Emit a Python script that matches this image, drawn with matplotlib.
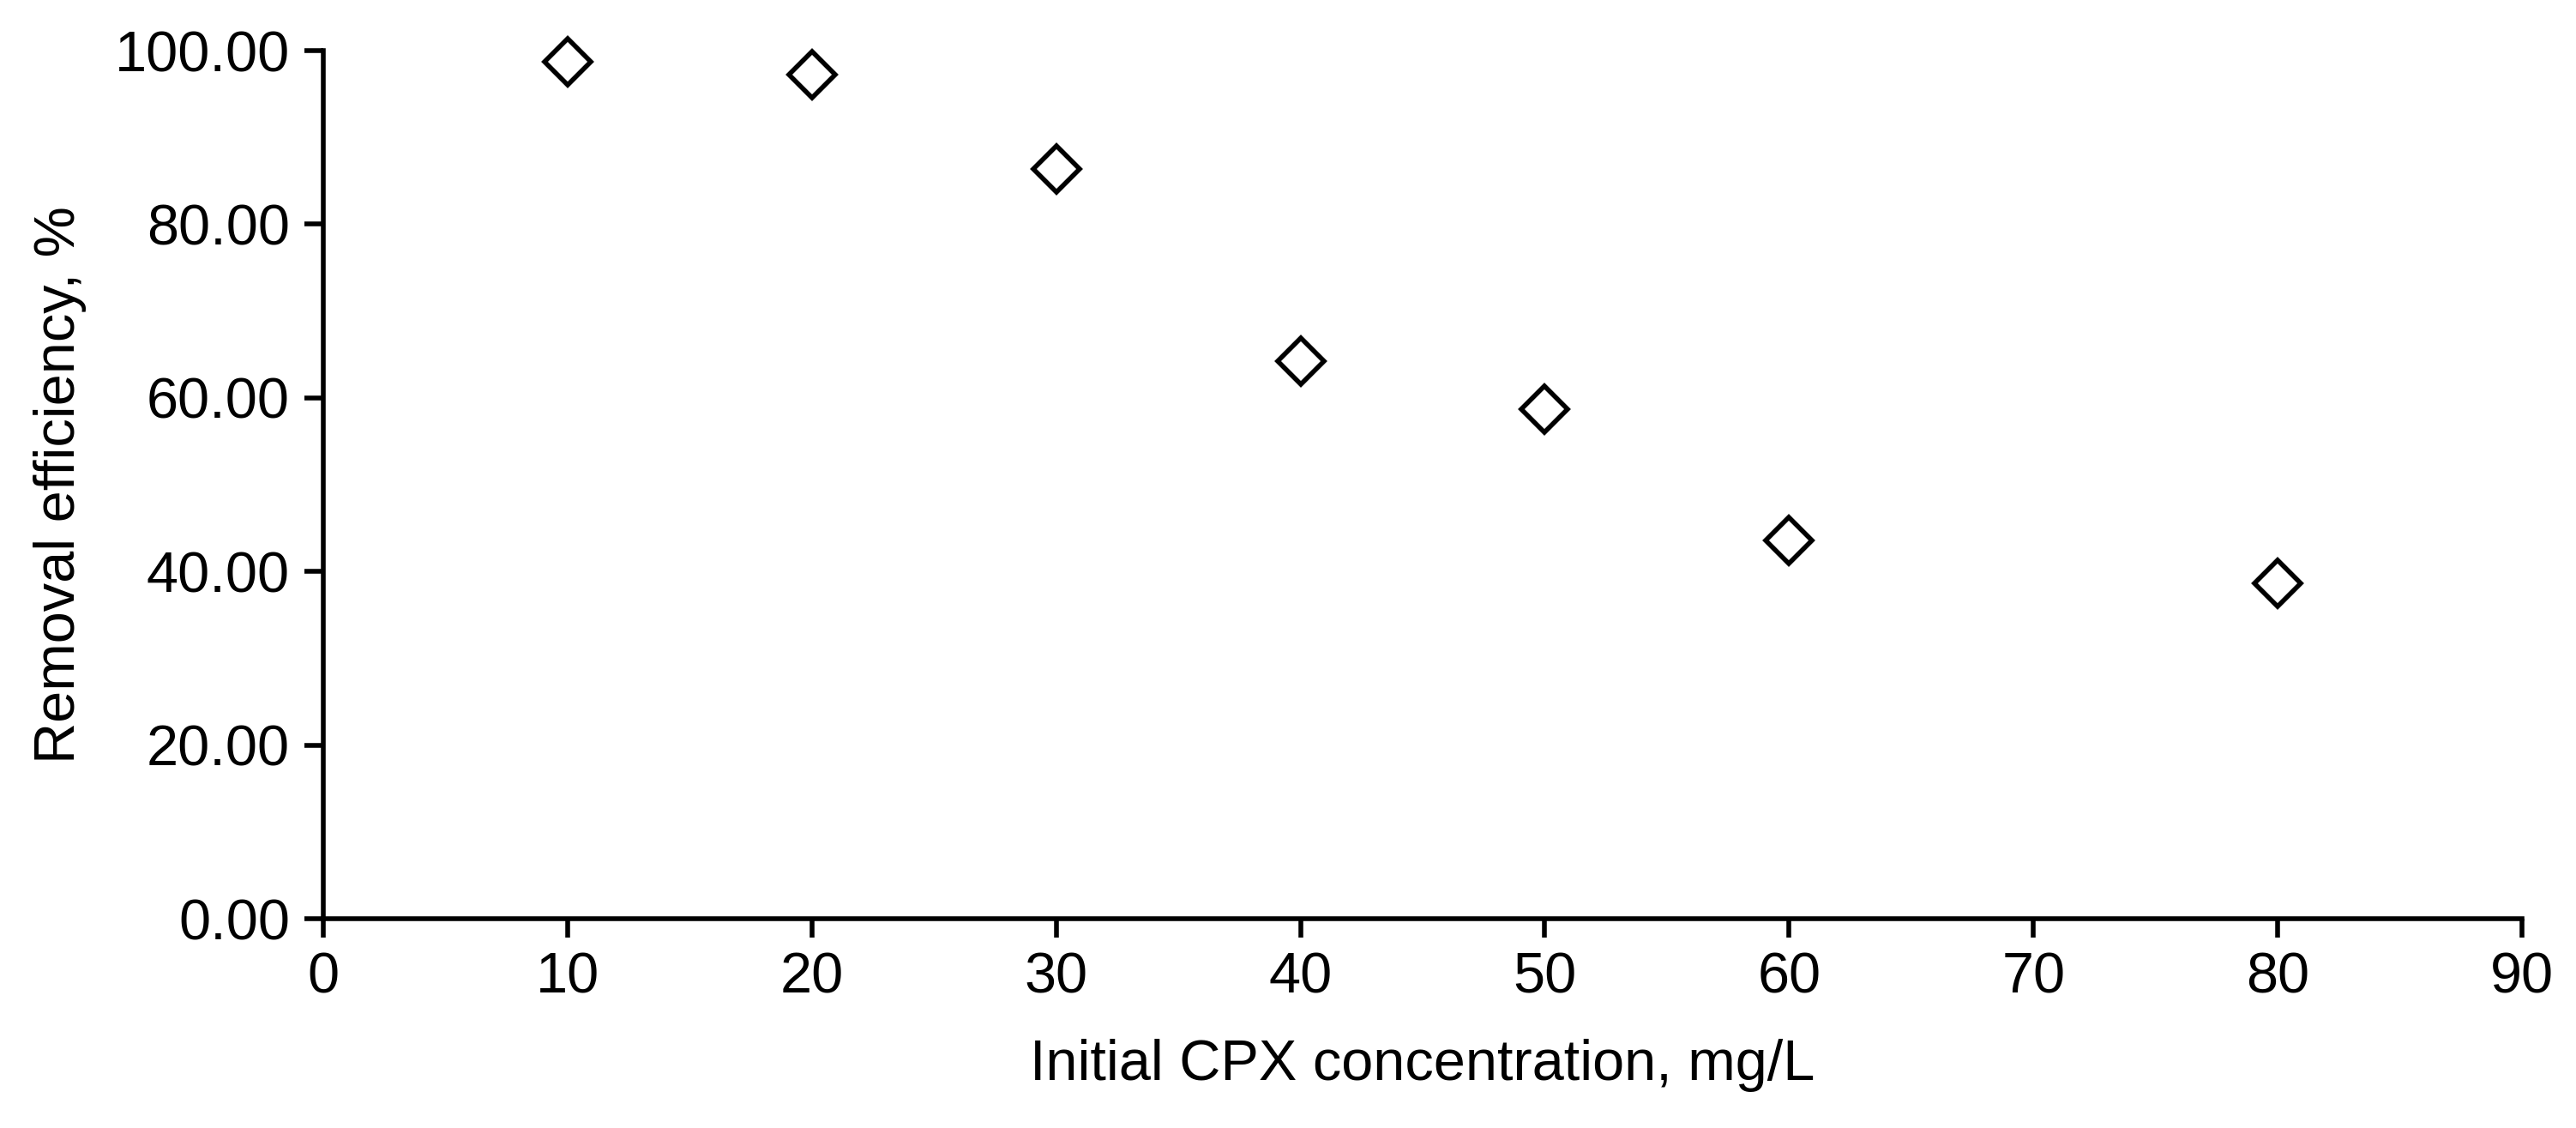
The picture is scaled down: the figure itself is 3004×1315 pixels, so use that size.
import matplotlib
matplotlib.use('Agg')
import matplotlib.pyplot as plt

plt.rcParams['font.family'] = ['Liberation Sans', 'DejaVu Sans']

concentration = [10, 20, 30, 40, 50, 60, 80]
removal_eff = [98.7, 97.2, 86.4, 64.2, 58.7, 43.6, 38.6]

fig = plt.figure(figsize=(30.04, 13.15), dpi=100)
ax = fig.add_axes([377 / 3004, 1 - 1071 / 1315, (2941 - 377) / 3004, (1071 - 59) / 1315])

ax.plot(concentration, removal_eff, linestyle='none', marker='D', markersize=28,
        markerfacecolor='white', markeredgecolor='black', markeredgewidth=4,
        clip_on=False, zorder=5)

ax.set_xlim(0, 90)
ax.set_ylim(0, 100)
ax.set_xticks(range(0, 100, 10))
ax.set_yticks(range(0, 101, 20))
ax.set_yticklabels(['%.2f' % v for v in range(0, 101, 20)])

for side in ('top', 'right'):
    ax.spines[side].set_visible(False)
for side in ('left', 'bottom'):
    ax.spines[side].set_linewidth(4)
ax.tick_params(direction='out', length=16, width=4, labelsize=48, pad=12)

ax.set_xlabel('Initial CPX concentration, mg/L', fontsize=48, labelpad=28)
ax.set_ylabel('Removal efficiency, %', fontsize=48, labelpad=24)

fig.savefig('out.png', dpi=100)
